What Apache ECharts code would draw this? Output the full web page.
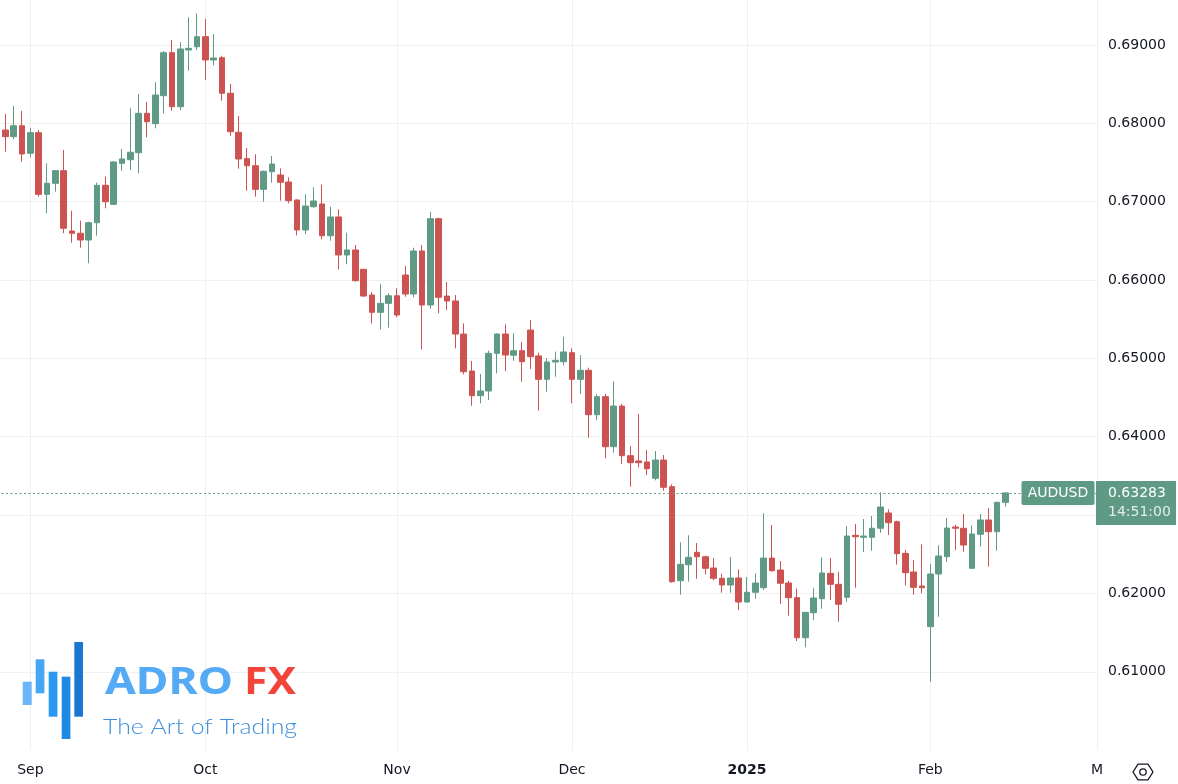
<!DOCTYPE html>
<html>
<head>
<meta charset="utf-8">
<script src="https://cdn.jsdelivr.net/npm/echarts@6/dist/echarts.min.js"></script>
<style>
html,body{margin:0;padding:0;background:#fff;}
#chart{width:1178px;height:784px;}
</style>
</head>
<body>
<div id="chart"></div>
<script>
// ---- data ----
const categories = [
'2024-08-27','2024-08-28','2024-08-29','2024-08-30',
'2024-09-02','2024-09-03','2024-09-04','2024-09-05','2024-09-06','2024-09-09','2024-09-10','2024-09-11','2024-09-12','2024-09-13','2024-09-16','2024-09-17','2024-09-18','2024-09-19','2024-09-20','2024-09-23','2024-09-24','2024-09-25','2024-09-26','2024-09-27','2024-09-30',
'2024-10-01','2024-10-02','2024-10-03','2024-10-04','2024-10-07','2024-10-08','2024-10-09','2024-10-10','2024-10-11','2024-10-14','2024-10-15','2024-10-16','2024-10-17','2024-10-18','2024-10-21','2024-10-22','2024-10-23','2024-10-24','2024-10-25','2024-10-28','2024-10-29','2024-10-30','2024-10-31',
'2024-11-01','2024-11-04','2024-11-05','2024-11-06','2024-11-07','2024-11-08','2024-11-11','2024-11-12','2024-11-13','2024-11-14','2024-11-15','2024-11-18','2024-11-19','2024-11-20','2024-11-21','2024-11-22','2024-11-25','2024-11-26','2024-11-27','2024-11-28','2024-11-29',
'2024-12-02','2024-12-03','2024-12-04','2024-12-05','2024-12-06','2024-12-09','2024-12-10','2024-12-11','2024-12-12','2024-12-13','2024-12-16','2024-12-17','2024-12-18','2024-12-19','2024-12-20','2024-12-23','2024-12-24','2024-12-26','2024-12-27','2024-12-30','2024-12-31',
'2025-01-02','2025-01-03','2025-01-06','2025-01-07','2025-01-08','2025-01-09','2025-01-10','2025-01-13','2025-01-14','2025-01-15','2025-01-16','2025-01-17','2025-01-20','2025-01-21','2025-01-22','2025-01-23','2025-01-24','2025-01-27','2025-01-28','2025-01-29','2025-01-30','2025-01-31',
'2025-02-03','2025-02-04','2025-02-05','2025-02-06','2025-02-07','2025-02-10','2025-02-11','2025-02-12','2025-02-13','2025-02-14',
'2025-02-17','2025-02-18','2025-02-19','2025-02-20','2025-02-21','2025-02-24','2025-02-25','2025-02-26','2025-02-27','2025-02-28',
'2025-03-03'
];

const openP = [
0.67702,0.67915,0.67830,0.67970,0.67618,0.67881,0.67094,0.67235,0.67396,0.66626,
0.66597,0.66511,0.66732,0.67209,0.66967,0.67490,0.67536,0.67625,0.68128,0.67996,
0.68353,0.68902,0.68213,0.68936,0.68978,0.69106,0.68809,0.68838,0.68384,0.67886,
0.67549,0.67459,0.67158,0.67383,0.67341,0.67251,0.67022,0.66639,0.66936,0.66971,
0.66566,0.66805,0.66320,0.66384,0.66137,0.65809,0.65588,0.65703,0.65800,0.66064,
0.65822,0.66371,0.65682,0.66783,0.65796,0.65733,0.65311,0.64839,0.64524,0.64584,
0.65065,0.65311,0.65040,0.65098,0.65362,0.65031,0.64733,0.64954,0.64958,0.65073,
0.64733,0.64848,0.64281,0.64511,0.63873,0.64392,0.63758,0.63691,0.63678,0.63470,
0.63703,0.63363,0.62163,0.62367,0.62525,0.62469,0.62325,0.62193,0.62108,0.62197,
0.61891,0.62015,0.62073,0.62452,0.62299,0.62133,0.61946,0.61435,0.61754,0.61933,
0.62257,0.62117,0.61951,0.62742,0.62717,0.62717,0.62832,0.63027,0.62916,0.62512,
0.62274,0.62095,0.61576,0.62248,0.62469,0.62848,0.62832,0.62321,0.62755,0.62938,
0.62788,0.63163
];
const closeP = [
0.67915,0.67830,0.67970,0.67609,0.67881,0.67094,0.67235,0.67396,0.66661,0.66597,
0.66511,0.66732,0.67209,0.67000,0.67507,0.67545,0.67631,0.68128,0.68021,0.68362,
0.68902,0.68213,0.68949,0.68958,0.69106,0.68809,0.68834,0.68384,0.67893,0.67545,
0.67459,0.67158,0.67388,0.67481,0.67248,0.67013,0.66639,0.66945,0.67009,0.66566,
0.66805,0.66320,0.66384,0.65992,0.65796,0.65588,0.65703,0.65800,0.65554,0.65822,
0.66371,0.65682,0.66783,0.65780,0.65733,0.65311,0.64830,0.64524,0.64584,0.65065,
0.65311,0.65043,0.65098,0.64958,0.65022,0.64733,0.64954,0.64976,0.65082,0.64733,
0.64848,0.64281,0.64511,0.63873,0.64392,0.63758,0.63669,0.63669,0.63592,0.63703,
0.63355,0.62150,0.62372,0.62461,0.62469,0.62321,0.62193,0.62108,0.62197,0.61891,
0.62015,0.62133,0.62452,0.62290,0.62130,0.61946,0.61435,0.61759,0.61942,0.62261,
0.62117,0.61862,0.62733,0.62724,0.62733,0.62832,0.63103,0.62903,0.62507,0.62265,
0.62078,0.62073,0.62248,0.62478,0.62835,0.62832,0.62618,0.62759,0.62938,0.62788,
0.63163,0.63283
];
const lowP = [
0.67673,0.67638,0.67796,0.67511,0.67567,0.67064,0.66852,0.67128,0.66597,0.66477,
0.66413,0.66214,0.66566,0.66916,0.66960,0.67396,0.67405,0.67362,0.67822,0.67937,
0.68128,0.68161,0.68170,0.68672,0.68936,0.68553,0.68741,0.68289,0.67842,0.67421,
0.67140,0.67064,0.67000,0.67243,0.67013,0.66980,0.66571,0.66584,0.66923,0.66520,
0.66502,0.66137,0.66201,0.65979,0.65787,0.65448,0.65371,0.65392,0.65525,0.65787,
0.65780,0.65116,0.65634,0.65576,0.65618,0.65129,0.64797,0.64396,0.64427,0.64469,
0.64810,0.64839,0.64971,0.64703,0.64865,0.64333,0.64575,0.64766,0.64912,0.64427,
0.64546,0.63988,0.64214,0.63725,0.63796,0.63652,0.63363,0.63610,0.63512,0.63444,
0.63311,0.62137,0.61984,0.62150,0.62188,0.62244,0.62168,0.62010,0.62010,0.61789,
0.61885,0.61933,0.62044,0.62278,0.61865,0.61716,0.61393,0.61313,0.61661,0.61805,
0.61916,0.61640,0.61895,0.62073,0.62529,0.62546,0.62775,0.62746,0.62367,0.62104,
0.61984,0.62002,0.60874,0.61703,0.62405,0.62555,0.62533,0.62315,0.62597,0.62342,
0.62546,0.63107
];
const highP = [
0.67953,0.68119,0.68221,0.68158,0.67941,0.67915,0.67490,0.67405,0.67660,0.66885,
0.66758,0.66745,0.67243,0.67319,0.67519,0.67673,0.68192,0.68375,0.68272,0.68524,
0.68923,0.69064,0.69034,0.69354,0.69405,0.69332,0.69140,0.68863,0.68502,0.68094,
0.67685,0.67605,0.67396,0.67583,0.67426,0.67311,0.67031,0.67094,0.67184,0.67217,
0.66936,0.66903,0.66604,0.66447,0.66140,0.65844,0.65950,0.65831,0.65895,0.66179,
0.66413,0.66447,0.66869,0.66796,0.65975,0.65809,0.65448,0.64967,0.64801,0.65098,
0.65320,0.65435,0.65320,0.65209,0.65490,0.65073,0.65001,0.65086,0.65277,0.65129,
0.65040,0.64881,0.64542,0.64546,0.64708,0.64418,0.63882,0.64290,0.63831,0.63818,
0.63767,0.63393,0.62653,0.62742,0.62644,0.62482,0.62452,0.62252,0.62465,0.62308,
0.62210,0.62257,0.63023,0.62874,0.62414,0.62163,0.62061,0.61765,0.62066,0.62461,
0.62452,0.62274,0.62861,0.62886,0.62950,0.62988,0.63291,0.63074,0.62929,0.62555,
0.62427,0.62627,0.62376,0.62615,0.62963,0.62878,0.63014,0.62870,0.63014,0.63091,
0.63170,0.63286
];

const tickDates  = ['2024-09-02','2024-10-01','2024-11-01','2024-12-02','2025-01-02','2025-02-03','2025-03-03'];
const tickLabels = ['Sep','Oct','Nov','Dec','2025','Feb','M'];
const boldTicks  = ['2025'];

const symbolName = 'AUDUSD';
const lastPrice  = closeP[closeP.length - 1];
const lastTime   = '14:51:00';

// ---- styles ----
const UP = '#5f9a85', DOWN = '#cc5351', TXT = '#131722', GRID = '#f0f0f0';
const FONT = 'DejaVu Sans';

const candles = openP.map((o, i) => [o, closeP[i], lowP[i], highP[i]]);
const isTick = (v) => tickDates.indexOf(v) >= 0;

const chart = echarts.init(document.getElementById('chart'), null, {renderer: 'canvas'});

chart.setOption({
  animation: false,
  backgroundColor: '#ffffff',
  grid: {left: -3, width: 1100, top: -33.35, height: 783.5, outerBoundsMode: 'none', containLabel: false},
  xAxis: {
    type: 'category',
    data: categories,
    boundaryGap: false,
    axisLine: {show: false},
    axisTick: {show: false},
    axisLabel: {
      interval: (idx, v) => isTick(v),
      margin: 13,
      color: TXT,
      fontFamily: FONT,
      fontSize: 14,
      formatter: (v) => {
        const k = tickDates.indexOf(v);
        if (k < 0) return '';
        const t = tickLabels[k];
        return boldTicks.indexOf(t) >= 0 ? '{b|' + t + '}' : t;
      },
      rich: {b: {fontWeight: 'bold', fontFamily: FONT, fontSize: 14, color: TXT}}
    },
    splitLine: {show: true, interval: (idx, v) => isTick(v), lineStyle: {color: GRID, width: 1}}
  },
  yAxis: {
    type: 'value',
    position: 'right',
    min: 0.60, max: 0.70, interval: 0.01,
    axisLine: {show: false},
    axisTick: {show: false},
    axisLabel: {
      margin: 11, color: TXT, fontFamily: FONT, fontSize: 14,
      showMinLabel: false, showMaxLabel: false,
      formatter: (v) => v.toFixed(5)
    },
    splitLine: {show: true, showMinLine: false, showMaxLine: false, lineStyle: {color: GRID, width: 1}}
  },
  series: [{
    type: 'candlestick',
    data: candles,
    barWidth: 6,
    itemStyle: {color: UP, color0: DOWN, borderColor: UP, borderColor0: DOWN, borderWidth: 1},
    markLine: {
      silent: true,
      precision: 5,
      symbol: ['none', 'none'],
      label: {show: false},
      lineStyle: {color: UP, type: [2, 2.5], width: 1.2, opacity: 1},
      data: [{yAxis: lastPrice}]
    }
  }]
});

// ---- overlays: price label, logo, settings icon ----
const yPix = chart.convertToPixel({yAxisIndex: 0}, lastPrice);

function fitScale(text, font, target) {
  const c = document.createElement('canvas').getContext('2d');
  c.font = font;
  const w = c.measureText(text).width;
  return w > 0 ? target / w : 1;
}
const fADRO = '700 37px "Noto Sans"';
const fFX = '700 37px "Noto Sans"';
const fTag = '300 22px Lato';

const hexR = 10, hx = 1143, hy = 772;
const hexPts = [];
for (let k = 0; k < 6; k++) {
  const a = Math.PI / 3 * k;
  hexPts.push([hx + hexR * Math.cos(a), hy + hexR * Math.sin(a) * 0.9]);
}

chart.setOption({
  graphic: [
    {type: 'rect', z: 100, shape: {x: 1021.5, y: yPix - 12, width: 73, height: 24, r: 2}, style: {fill: UP}},
    {type: 'text', z: 101, x: 1058, y: yPix, style: {text: symbolName, fill: '#ffffff', font: '14px "' + FONT + '"', align: 'center', verticalAlign: 'middle'}},
    {type: 'rect', z: 100, shape: {x: 1096, y: yPix - 12, width: 80, height: 44}, style: {fill: UP}},
    {type: 'text', z: 101, x: 1108, y: yPix, style: {text: lastPrice.toFixed(5), fill: '#ffffff', font: '14px "' + FONT + '"', align: 'left', verticalAlign: 'middle'}},
    {type: 'text', z: 101, x: 1108, y: yPix + 19, style: {text: lastTime, fill: 'rgba(255,255,255,0.82)', font: '14px "' + FONT + '"', align: 'left', verticalAlign: 'middle'}},

    {type: 'rect', z: 50, shape: {x: 22.7, y: 681.7, width: 9, height: 23.3}, style: {fill: '#6cb6f7'}},
    {type: 'rect', z: 50, shape: {x: 35.7, y: 659.3, width: 8.7, height: 34}, style: {fill: '#44a6f5'}},
    {type: 'rect', z: 50, shape: {x: 48.7, y: 671.7, width: 8.7, height: 45}, style: {fill: '#2a97f0'}},
    {type: 'rect', z: 50, shape: {x: 61.7, y: 676.7, width: 8.7, height: 62.3}, style: {fill: '#1f88e3'}},
    {type: 'rect', z: 50, shape: {x: 74.3, y: 642, width: 8.7, height: 74.7}, style: {fill: '#1a77d0'}},
    {type: 'text', z: 50, x: 105, y: 683, scaleX: fitScale('ADRO', fADRO, 128), style: {text: 'ADRO', fill: '#55aaf6', font: fADRO, align: 'left', verticalAlign: 'middle'}},
    {type: 'text', z: 50, x: 244, y: 683, scaleX: fitScale('FX', fFX, 52), style: {text: 'FX', fill: '#f2453a', font: fFX, align: 'left', verticalAlign: 'middle'}},
    {type: 'text', z: 50, x: 103, y: 727, scaleX: fitScale('The Art of Trading', fTag, 194), style: {text: 'The Art of Trading', fill: '#3f8fdf', font: fTag, align: 'left', verticalAlign: 'middle'}},

    {type: 'polygon', z: 50, shape: {points: hexPts}, style: {fill: 'none', stroke: TXT, lineWidth: 1.3}},
    {type: 'circle', z: 50, shape: {cx: hx, cy: hy, r: 3.2}, style: {fill: 'none', stroke: TXT, lineWidth: 1.3}}
  ]
});
</script>
</body>
</html>
